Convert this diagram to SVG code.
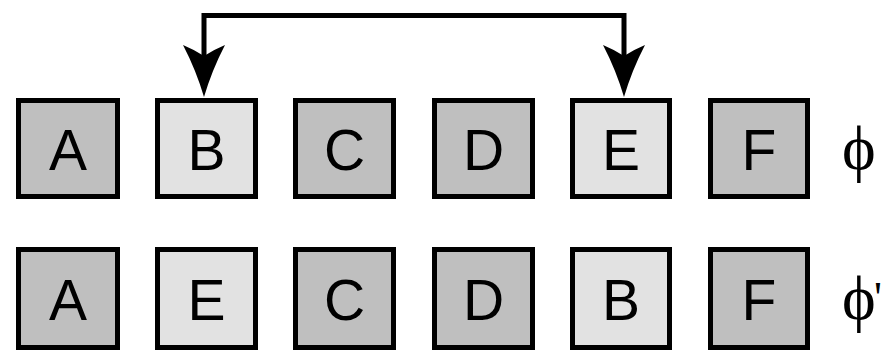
<svg xmlns="http://www.w3.org/2000/svg" width="883" height="352" viewBox="0 0 883 352">
<style>
.box rect{stroke:#000;stroke-width:5}
.dark rect{fill:#bfbfbf}
.light rect{fill:#e2e2e2}
.box text{font-family:"Liberation Sans",Arial,sans-serif;font-size:57px;text-anchor:middle;fill:#000}
.phi{font-family:"Liberation Serif","Times New Roman",serif;font-size:64px;fill:#000}
</style>
<rect width="883" height="352" fill="#fff"/>
<g id="connectors">
<path d="M204,58 V15.5 H624 V58" fill="none" stroke="#000" stroke-width="5"/>
<path d="M204,97 Q196,70 183,45 Q195,50 204,56 Q213,50 225,45 Q212,70 204,97 Z" fill="#000"/>
<path d="M624,97 Q616,70 603,45 Q615,50 624,56 Q633,50 645,45 Q632,70 624,97 Z" fill="#000"/>
</g>
<g id="A1" class="box dark"><rect x="18.5" y="100.5" width="99" height="96"/><text x="68" y="170">A</text></g>
<g id="B1" class="box light"><rect x="157.5" y="100.5" width="98" height="96"/><text x="206.5" y="170">B</text></g>
<g id="C1" class="box dark"><rect x="295.5" y="100.5" width="98" height="96"/><text x="344.5" y="170">C</text></g>
<g id="D1" class="box dark"><rect x="434.5" y="100.5" width="98" height="96"/><text x="483.5" y="170">D</text></g>
<g id="E1" class="box light"><rect x="572.5" y="100.5" width="97" height="96"/><text x="621" y="170">E</text></g>
<g id="F1" class="box dark"><rect x="710.5" y="100.5" width="97" height="96"/><text x="759" y="170">F</text></g>
<g id="A2" class="box dark"><rect x="18.5" y="249.5" width="99" height="98"/><text x="68" y="320">A</text></g>
<g id="E2" class="box light"><rect x="157.5" y="249.5" width="98" height="98"/><text x="206.5" y="320">E</text></g>
<g id="C2" class="box dark"><rect x="295.5" y="249.5" width="98" height="98"/><text x="344.5" y="320">C</text></g>
<g id="D2" class="box dark"><rect x="434.5" y="249.5" width="98" height="98"/><text x="483.5" y="320">D</text></g>
<g id="B2" class="box light"><rect x="572.5" y="249.5" width="97" height="98"/><text x="621" y="320">B</text></g>
<g id="F2" class="box dark"><rect x="710.5" y="249.5" width="97" height="98"/><text x="759" y="320">F</text></g>
<text class="phi" x="842" y="169">ϕ</text>
<text class="phi" x="842" y="319">ϕ<tspan font-size="44" x="874" y="312">'</tspan></text>
</svg>
